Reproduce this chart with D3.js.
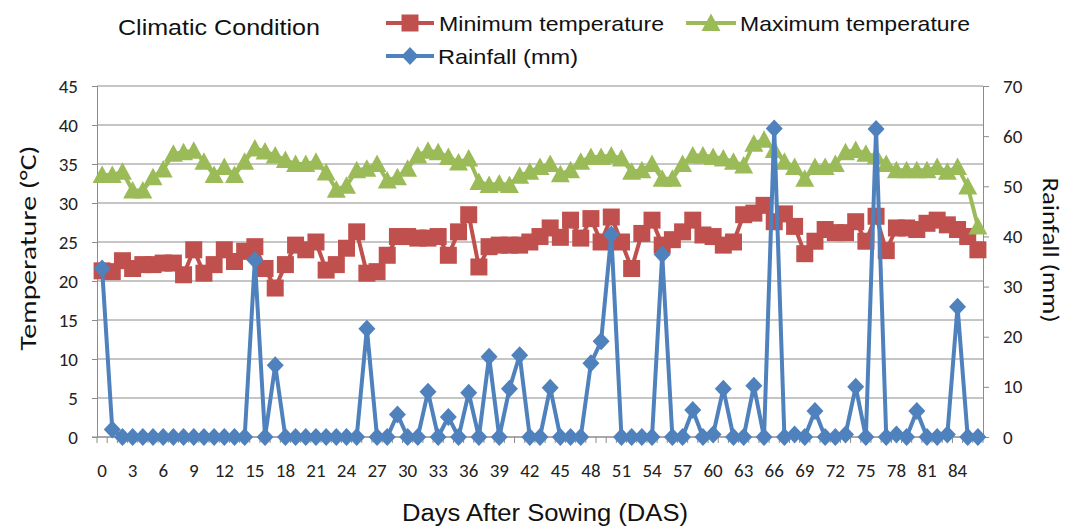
<!DOCTYPE html>
<html><head><meta charset="utf-8">
<script src="https://cdn.jsdelivr.net/npm/d3@7"></script>
<style>
html,body{margin:0;padding:0;background:#fff;}
svg{display:block;font-family:Carlito,Lato,"Open Sans",sans-serif;}
</style></head>
<body><svg id="chart" width="1068" height="526"></svg>
<script>
const days = [0,1,2,3,4,5,6,7,8,9,10,11,12,13,14,15,16,17,18,19,20,21,22,23,24,25,26,27,28,29,30,31,32,33,34,35,36,37,38,39,40,41,42,43,44,45,46,47,48,49,50,51,52,53,54,55,56,57,58,59,60,61,62,63,64,65,66,67,68,69,70,71,72,73,74,75,76,77,78,79,80,81,82,83,84,85,86];
const minTemp = [21.3,21.2,22.6,21.6,22.1,22.1,22.3,22.3,20.8,24.0,21.0,22.1,24.0,22.5,23.8,24.4,21.6,19.1,22.1,24.6,24.0,25.0,21.4,22.1,24.2,26.3,21.0,21.2,23.3,25.7,25.7,25.5,25.5,25.7,23.3,26.3,28.5,21.8,24.4,24.6,24.6,24.6,25.0,25.7,26.8,25.6,27.8,25.5,28.0,25.0,28.2,25.0,21.6,26.1,27.8,24.6,25.3,26.3,27.8,25.9,25.7,24.6,25.0,28.5,28.7,29.7,27.6,28.6,27.0,23.5,25.1,26.6,26.2,26.2,27.6,25.1,28.3,23.9,26.8,26.8,26.6,27.4,27.8,27.2,26.6,25.7,24.0];
const maxTemp = [33.6,33.6,34.0,31.6,31.6,33.3,34.3,36.3,36.5,36.7,35.3,33.6,34.6,33.6,35.3,37.0,36.6,36.1,35.5,35.0,35.0,35.3,33.9,31.7,32.2,34.2,34.4,35.0,32.9,33.3,34.4,36.1,36.7,36.5,35.9,35.2,35.7,32.7,32.3,32.5,32.3,33.5,34.0,34.6,35.0,33.7,34.2,35.3,35.9,35.9,36.1,35.7,34.0,34.2,35.0,33.1,33.1,35.0,36.1,36.1,35.9,35.7,35.3,34.8,37.6,38.1,36.8,35.3,34.6,33.1,34.6,34.6,35.0,36.5,36.8,36.3,36.0,35.0,34.2,34.2,34.2,34.2,34.6,34.0,34.6,32.1,27.0];
const rainfall = [33.6,1.5,0,0,0,0,0,0,0,0,0,0,0,0,0,35.3,0,14.3,0,0,0,0,0,0,0,0,21.6,0,0,4.5,0,0,9.0,0,4.0,0,8.8,0,16.0,0,9.6,16.3,0,0,9.8,0,0,0,14.7,19.1,40.4,0,0,0,0,36.4,0,0,5.4,0,0.5,9.6,0,0,10.2,0,61.5,0,0.5,0,5.2,0,0,0.5,10.0,0,61.4,0,0.5,0,5.2,0,0,0.5,26.0,0,0];
const leftTicks = [0,5,10,15,20,25,30,35,40,45];
const rightTicks = [0,10,20,30,40,50,60,70];
const xTickLabels = [0,3,6,9,12,15,18,21,24,27,30,33,36,39,42,45,48,51,54,57,60,63,66,69,72,75,78,81,84];
const seriesNames = ["Minimum temperature","Maximum temperature","Rainfall (mm)"];
const colors = ["#C0504D","#9BBB59","#4F81BD"];

const svg = d3.select("#chart");
const L = 97, R = 983, T = 86, B = 437;
const x = d3.scaleBand().domain(days).range([L, R]).paddingInner(0).paddingOuter(0);
const cx = d => x(d) + x.bandwidth()/2;
const yL = d3.scaleLinear().domain([0,45]).range([B,T]);
const yR = d3.scaleLinear().domain([0,70]).range([B,T]);
const gridCol = "#8c8c8c";
const arialish = "'Liberation Sans',Arial,sans-serif";

// gridlines
svg.append("g").selectAll("line").data(leftTicks).join("line")
  .attr("x1", L).attr("x2", R).attr("y1", d=>yL(d)).attr("y2", d=>yL(d))
  .attr("stroke", gridCol).attr("stroke-width", 1);

// left axis
const gL = svg.append("g").attr("transform", `translate(${L},0)`)
  .call(d3.axisLeft(yL).tickValues(leftTicks).tickSize(5).tickPadding(14));
// right axis
const gR = svg.append("g").attr("transform", `translate(${R},0)`)
  .call(d3.axisRight(yR).tickValues(rightTicks).tickSize(6).tickPadding(14));
[gL,gR].forEach(g=>{
  g.select(".domain").attr("stroke", gridCol);
  g.selectAll(".tick line").attr("stroke", gridCol);
  g.selectAll(".tick text").attr("font-size", 19).attr("fill","#222").attr("font-family","Carlito,Lato,sans-serif");
});

// bottom axis
const gB = svg.append("g");
gB.append("line").attr("x1", L-5).attr("x2", R).attr("y1", B).attr("y2", B).attr("stroke", gridCol);
const bounds = days.map(d=>x(d)).concat([R]);
gB.selectAll("line.tk").data(bounds).join("line").attr("class","tk")
  .attr("x1", d=>d).attr("x2", d=>d).attr("y1", B).attr("y2", B+6).attr("stroke", gridCol);
gB.selectAll("text").data(xTickLabels).join("text")
  .attr("x", d=>cx(d)).attr("y", 477).attr("text-anchor","middle")
  .attr("font-size", 19).attr("fill","#222").text(d=>d);

// marker shapes
function marker(sel, type, color){
  if(type===0){
    sel.append("rect").attr("x",-8.5).attr("y",-8.5).attr("width",17).attr("height",17).attr("fill",color);
  } else if(type===1){
    sel.append("path").attr("d","M0,-9.5L9.5,8L-9.5,8Z").attr("fill",color);
  } else {
    sel.append("path").attr("d","M0,-9L8.5,0L0,9L-8.5,0Z").attr("fill",color);
  }
}

const series = [
  {vals:minTemp, y:yL, type:0},
  {vals:maxTemp, y:yL, type:1},
  {vals:rainfall, y:yR, type:2}
];
series.forEach((s,i)=>{
  const g = svg.append("g");
  const line = d3.line().x((v,j)=>cx(days[j])).y(v=>s.y(v));
  g.append("path").datum(s.vals).attr("d", line).attr("fill","none")
    .attr("stroke", colors[i]).attr("stroke-width", 4).attr("stroke-linejoin","round");
  s.vals.forEach((v,j)=>{
    const m = g.append("g").attr("transform",`translate(${cx(days[j])},${s.y(v)})`);
    marker(m, s.type, colors[i]);
  });
});

// title
svg.append("text").attr("x",118).attr("y",35).attr("font-size",22).attr("fill","#111")
  .attr("font-family",arialish)
  .attr("textLength",202).attr("lengthAdjust","spacingAndGlyphs").text("Climatic Condition");

// legend
const legend = [
  {x1:386, x2:434, y:23, tx:439, tw:225},
  {x1:686, x2:736, y:23, tx:740, tw:230},
  {x1:386, x2:434, y:56, tx:438, tw:140}
];
legend.forEach((l,i)=>{
  svg.append("line").attr("x1",l.x1).attr("x2",l.x2).attr("y1",l.y).attr("y2",l.y)
    .attr("stroke",colors[i]).attr("stroke-width",4);
  const m = svg.append("g").attr("transform",`translate(${(l.x1+l.x2)/2},${l.y})`);
  marker(m, i, colors[i]);
  svg.append("text").attr("x",l.tx).attr("y",l.y+8).attr("font-size",21).attr("fill","#111")
    .attr("font-family",arialish)
    .attr("textLength",l.tw).attr("lengthAdjust","spacingAndGlyphs").text(seriesNames[i]);
});

// axis titles
svg.append("text").attr("x",545).attr("y",521).attr("text-anchor","middle").attr("font-size",23)
  .attr("fill","#111").attr("font-family",arialish).attr("textLength",286).attr("lengthAdjust","spacingAndGlyphs").text("Days After Sowing  (DAS)");
svg.append("text").attr("transform","translate(36,248) rotate(-90)").attr("text-anchor","middle")
  .attr("font-size",23).attr("fill","#111").attr("textLength",205).attr("lengthAdjust","spacingAndGlyphs").text("Temperature  (°C)");
svg.append("text").attr("transform","translate(1043,250) rotate(90)").attr("text-anchor","middle")
  .attr("font-size",23).attr("fill","#111").attr("textLength",145).attr("lengthAdjust","spacingAndGlyphs").text("Rainfall (mm)");
</script></body></html>
